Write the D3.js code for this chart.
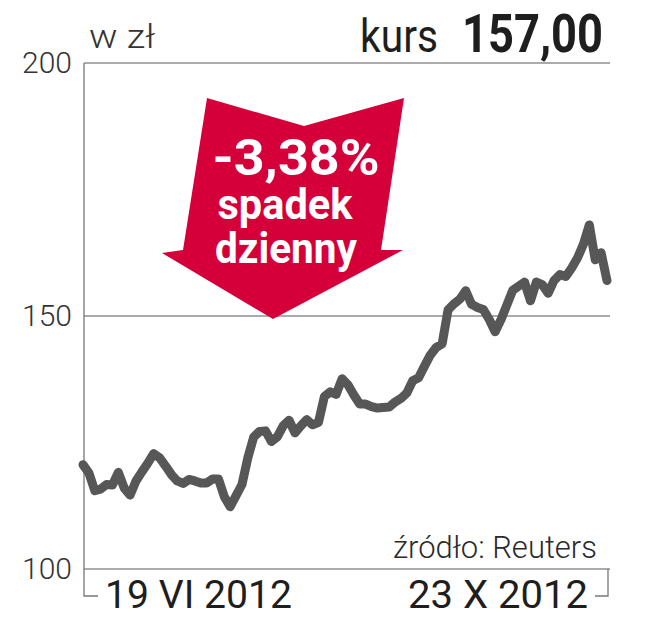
<!DOCTYPE html>
<html>
<head>
<meta charset="utf-8">
<script src="https://cdn.jsdelivr.net/npm/d3@7/dist/d3.min.js"></script>
<style>
  body { margin: 0; background: #fff; }
  svg text { font-family: Roboto, "Open Sans", sans-serif; }
</style>
</head>
<body>
<div id="chart"></div>
<script>
"use strict";

// daily closing prices, 19 VI 2012 .. 23 X 2012
const prices = [
  120.6, 119.0, 115.5, 115.8, 116.7, 116.6, 119.1, 116.0, 114.6, 117.4,
  119.2, 120.9, 122.8, 122.0, 120.4, 118.7, 117.4, 116.9, 117.7, 117.4,
  117.0, 117.0, 117.8, 117.8, 114.3, 112.3, 114.5, 116.7, 122.0, 126.1,
  127.2, 127.3, 125.2, 126.1, 128.3, 129.4, 126.9, 128.3, 129.5, 128.5,
  129.0, 134.1, 135.0, 134.5, 137.6, 136.4, 134.4, 132.6, 132.6, 132.1,
  131.8, 131.9, 132.0, 133.0, 133.7, 134.8, 137.2, 137.8, 140.1, 142.3,
  143.8, 144.5, 151.2, 152.4, 153.3, 155.0, 152.3, 151.7, 151.3, 149.3,
  146.9, 149.3, 152.2, 155.1, 155.9, 156.7, 153.0, 156.7, 156.2, 154.5,
  157.0, 158.2, 157.8, 159.5, 161.5, 164.2, 168.0, 161.1, 162.5, 157.0
];
const yTicks = [100, 150, 200];
const dateLabels = ["19 VI 2012", "23 X 2012"];
const unitLabel = "w zł";
const priceLabel = "kurs";
const lastPrice = "157,00";
const changeLines = ["-3,38%", "spadek", "dzienny"];
const sourceLabel = "źródło: Reuters";

const msm = {
    width: 660,
    height: 634,
    left: 84,
    right: 608,
    top: 63,
    bottom: 569
};

const svg = d3.select("#chart")
    .append("svg")
    .attr("width", msm.width)
    .attr("height", msm.height);

// scales
const x = d3.scaleLinear()
    .domain([0, prices.length - 1])
    .range([msm.left - 1, msm.right - 1]);
const y = d3.scaleLinear()
    .domain([100, 200])
    .range([msm.bottom, msm.top]);

// gridlines
svg.append("g")
    .selectAll("line")
    .data(yTicks)
    .enter()
    .append("line")
    .attr("x1", msm.left)
    .attr("x2", 610)
    .attr("y1", d => y(d))
    .attr("y2", d => y(d))
    .attr("stroke", "#8f8f8f")
    .attr("stroke-width", 1.3);

// left axis with labels
const yAxis = d3.axisLeft(y).tickValues(yTicks).tickSize(0).tickPadding(12);
const gy = svg.append("g")
    .attr("transform", "translate(" + msm.left + ",0)")
    .call(yAxis);
gy.select(".domain").remove();
gy.selectAll("text")
    .attr("fill", "#333")
    .style("font-size", "30px")
    .style("font-weight", 300);

// axis frame: left line with bottom foot, right foot
svg.append("path")
    .attr("d", "M" + msm.left + "," + msm.top + "V596H98")
    .attr("fill", "none")
    .attr("stroke", "#777")
    .attr("stroke-width", 1.3);
svg.append("path")
    .attr("d", "M" + msm.right + "," + msm.bottom + "V596H595")
    .attr("fill", "none")
    .attr("stroke", "#777")
    .attr("stroke-width", 1.3);

// the arrow
const arrow = [[207, 98], [304, 126], [404, 98], [381, 250], [403, 250],
               [273, 319], [162, 253], [183, 250]];
svg.append("polygon")
    .attr("points", arrow.map(p => p.join(",")).join(" "))
    .attr("fill", "#d50039");

const arrowText = [
    { x: 296, y: 175, size: 50, w: 167 },
    { x: 285, y: 219, size: 42, w: 135 },
    { x: 286, y: 263, size: 42, w: 142 }
];
svg.append("g")
    .selectAll("text")
    .data(changeLines)
    .enter()
    .append("text")
    .attr("x", (d, i) => arrowText[i].x)
    .attr("y", (d, i) => arrowText[i].y)
    .attr("text-anchor", "middle")
    .attr("textLength", (d, i) => arrowText[i].w)
    .attr("lengthAdjust", "spacingAndGlyphs")
    .style("font-size", (d, i) => arrowText[i].size + "px")
    .style("font-weight", 700)
    .attr("fill", "#fff")
    .text(d => d);

// price line
const line = d3.line()
    .x((d, i) => x(i))
    .y(d => y(d));
svg.append("path")
    .datum(prices)
    .attr("fill", "none")
    .attr("stroke", "#575757")
    .attr("stroke-width", 9)
    .attr("stroke-linejoin", "round")
    .attr("stroke-linecap", "round")
    .attr("d", line);

// header texts
svg.append("text")
    .attr("x", 89).attr("y", 48)
    .attr("textLength", 66)
    .attr("lengthAdjust", "spacingAndGlyphs")
    .style("font-size", "34px")
    .style("font-weight", 300)
    .attr("fill", "#333")
    .text(unitLabel);
svg.append("text")
    .attr("x", 360).attr("y", 52)
    .attr("textLength", 78)
    .attr("lengthAdjust", "spacingAndGlyphs")
    .style("font-size", "46px")
    .attr("fill", "#1e1e1e")
    .text(priceLabel);
svg.append("text")
    .attr("x", 462).attr("y", 52)
    .attr("textLength", 141)
    .attr("lengthAdjust", "spacingAndGlyphs")
    .style("font-size", "53px")
    .style("font-weight", 700)
    .attr("fill", "#1e1e1e")
    .text(lastPrice);

// source
svg.append("text")
    .attr("x", 597).attr("y", 558)
    .attr("text-anchor", "end")
    .attr("textLength", 204)
    .attr("lengthAdjust", "spacingAndGlyphs")
    .style("font-size", "32px")
    .style("font-weight", 300)
    .attr("fill", "#2a2a2a")
    .text(sourceLabel);

// date labels
svg.append("text")
    .attr("x", 105).attr("y", 608)
    .attr("textLength", 187)
    .attr("lengthAdjust", "spacingAndGlyphs")
    .style("font-size", "39px")
    .attr("fill", "#1e1e1e")
    .text(dateLabels[0]);
svg.append("text")
    .attr("x", 588).attr("y", 608)
    .attr("text-anchor", "end")
    .attr("textLength", 180)
    .attr("lengthAdjust", "spacingAndGlyphs")
    .style("font-size", "39px")
    .attr("fill", "#1e1e1e")
    .text(dateLabels[1]);
</script>
</body>
</html>
